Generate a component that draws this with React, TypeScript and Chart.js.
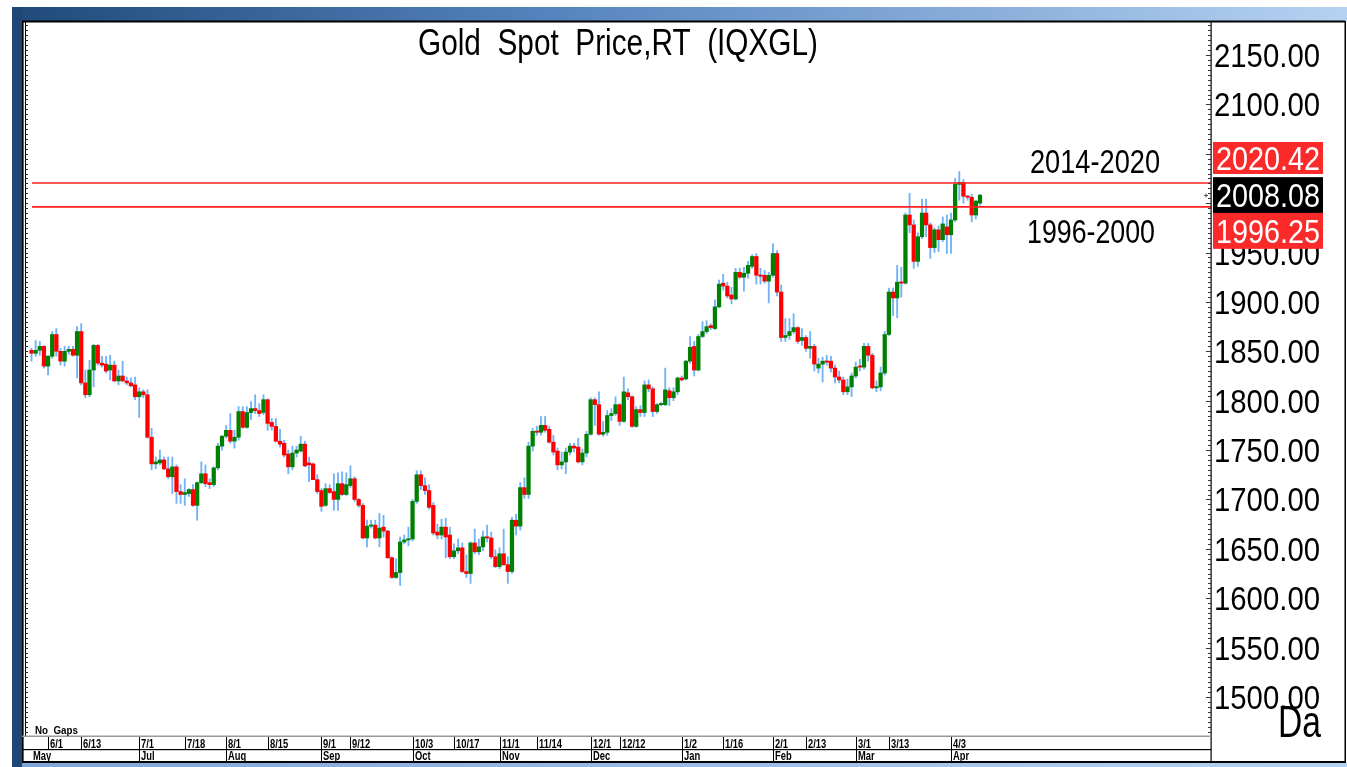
import React, { useEffect, useRef } from "react";
import { Chart, registerables } from "chart.js";

Chart.register(...registerables);

const title = "Gold  Spot  Price,RT  (IQXGL)";

const dates = [
  "5/26","5/27","5/30","5/31",
  "6/1","6/2","6/3","6/6","6/7","6/8","6/9","6/10","6/13","6/14","6/15","6/16","6/17","6/20","6/21","6/22","6/23","6/24","6/27","6/28","6/29","6/30",
  "7/1","7/4","7/5","7/6","7/7","7/8","7/11","7/12","7/13","7/14","7/15","7/18","7/19","7/20","7/21","7/22","7/25","7/26","7/27","7/28","7/29",
  "8/1","8/2","8/3","8/4","8/5","8/8","8/9","8/10","8/11","8/12","8/15","8/16","8/17","8/18","8/19","8/22","8/23","8/24","8/25","8/26","8/29","8/30","8/31",
  "9/1","9/2","9/5","9/6","9/7","9/8","9/9","9/12","9/13","9/14","9/15","9/16","9/19","9/20","9/21","9/22","9/23","9/26","9/27","9/28","9/29","9/30",
  "10/3","10/4","10/5","10/6","10/7","10/10","10/11","10/12","10/13","10/14","10/17","10/18","10/19","10/20","10/21","10/24","10/25","10/26","10/27","10/28","10/31",
  "11/1","11/2","11/3","11/4","11/7","11/8","11/9","11/10","11/11","11/14","11/15","11/16","11/17","11/18","11/21","11/22","11/23","11/24","11/25","11/28","11/29","11/30",
  "12/1","12/2","12/5","12/6","12/7","12/8","12/9","12/12","12/13","12/14","12/15","12/16","12/19","12/20","12/21","12/22","12/23","12/26","12/27","12/28","12/29","12/30",
  "1/2","1/3","1/4","1/5","1/6","1/9","1/10","1/11","1/12","1/13","1/16","1/17","1/18","1/19","1/20","1/23","1/24","1/25","1/26","1/27","1/30","1/31",
  "2/1","2/2","2/3","2/6","2/7","2/8","2/9","2/10","2/13","2/14","2/15","2/16","2/17","2/20","2/21","2/22","2/23","2/24","2/27","2/28",
  "3/1","3/2","3/3","3/6","3/7","3/8","3/9","3/10","3/13","3/14","3/15","3/16","3/17","3/20","3/21","3/22","3/23","3/24","3/27","3/28","3/29","3/30","3/31",
  "4/3","4/4","4/5","4/6","4/7","4/10","4/11","4/12",
];

const opens = [
  1851,1848,1851,1855,1835,1845,1867,1850,1840,1850,
  1852,1846,1870,1818,1806,1831,1856,1838,1837,1831,
  1836,1820,1825,1820,1818,1816,1804,1809,1806,1763,
  1736,1737,1740,1731,1723,1733,1708,1705,1706,1710,
  1694,1717,1726,1717,1715,1732,1754,1764,1770,1759,
  1763,1789,1773,1788,1792,1790,1788,1801,1778,1774,
  1759,1757,1746,1733,1747,1749,1756,1737,1736,1720,
  1709,1694,1711,1708,1700,1716,1705,1714,1721,1700,
  1694,1661,1673,1674,1661,1672,1668,1641,1621,1626,
  1657,1659,1660,1698,1725,1714,1709,1694,1667,1664,
  1672,1664,1642,1648,1651,1627,1625,1656,1647,1652,
  1662,1661,1642,1632,1645,1634,1627,1679,1673,1712,
  1705,1754,1769,1768,1775,1771,1758,1749,1735,1738,
  1748,1754,1753,1738,1747,1766,1801,1796,1766,1768,
  1785,1787,1796,1779,1808,1804,1774,1791,1788,1816,
  1812,1789,1796,1796,1810,1803,1809,1823,1822,1840,
  1855,1831,1865,1870,1876,1873,1895,1919,1916,1907,
  1903,1930,1925,1929,1936,1946,1927,1927,1921,1927,
  1949,1910,1864,1866,1870,1874,1861,1864,1853,1855,
  1833,1837,1840,1840,1833,1824,1821,1809,1814,1825,
  1835,1834,1855,1846,1813,1814,1828,1867,1910,1904,
  1920,1919,1988,1978,1941,1966,1990,1978,1955,1973,
  1963,1976,1968,1983,2019,2021,2007,2006,1988,2000,
];

const highs = [
  1853,1861,1860,1856,1846,1870,1873,1853,1855,1855,
  1855,1875,1878,1831,1841,1857,1857,1845,1845,1846,
  1840,1831,1840,1824,1823,1824,1813,1811,1811,1772,
  1743,1750,1743,1743,1743,1735,1715,1721,1711,1715,
  1718,1738,1735,1721,1733,1757,1765,1775,1787,1770,
  1794,1794,1794,1799,1806,1797,1806,1802,1782,1782,
  1771,1760,1750,1754,1754,1764,1759,1743,1737,1725,
  1711,1716,1715,1726,1727,1728,1727,1734,1723,1701,
  1696,1679,1679,1679,1686,1684,1669,1642,1640,1662,
  1664,1672,1700,1729,1729,1722,1715,1697,1675,1680,
  1681,1672,1655,1660,1656,1644,1657,1670,1660,1668,
  1674,1667,1649,1651,1670,1642,1682,1685,1717,1722,
  1758,1772,1774,1784,1784,1774,1765,1752,1748,1752,
  1757,1757,1762,1751,1769,1803,1803,1809,1779,1790,
  1792,1804,1797,1824,1812,1805,1794,1795,1820,1821,
  1814,1797,1798,1833,1813,1813,1824,1825,1841,1865,
  1860,1867,1880,1881,1878,1902,1922,1928,1920,1915,
  1934,1934,1935,1941,1948,1949,1934,1932,1930,1959,
  1952,1917,1883,1883,1888,1875,1873,1866,1870,1857,
  1843,1844,1846,1845,1836,1830,1824,1822,1828,1839,
  1842,1858,1858,1848,1820,1834,1870,1914,1914,1937,
  1935,1990,2010,1983,1970,2004,2004,1980,1975,1977,
  1986,1988,1990,2025,2032,2024,2008,2009,2003,2009,
];

const lows = [
  1840,1845,1846,1833,1826,1843,1845,1836,1835,1847,
  1845,1823,1816,1803,1804,1814,1836,1834,1828,1821,
  1819,1816,1819,1816,1814,1801,1783,1803,1762,1730,
  1731,1735,1730,1721,1706,1696,1696,1694,1703,1693,
  1679,1716,1713,1711,1713,1730,1750,1762,1757,1752,
  1760,1772,1772,1781,1787,1784,1786,1770,1770,1758,
  1753,1743,1726,1730,1743,1748,1733,1718,1720,1706,
  1688,1693,1706,1689,1689,1704,1704,1712,1698,1692,
  1660,1652,1671,1660,1652,1662,1640,1620,1620,1613,
  1655,1653,1658,1696,1710,1705,1690,1664,1660,1660,
  1641,1640,1640,1645,1626,1621,1615,1645,1644,1648,
  1657,1640,1631,1630,1633,1615,1625,1664,1669,1701,
  1701,1749,1765,1765,1768,1757,1745,1730,1731,1726,
  1745,1748,1737,1735,1743,1765,1775,1765,1764,1765,
  1780,1785,1775,1778,1801,1773,1773,1784,1784,1809,
  1784,1787,1795,1795,1795,1800,1806,1820,1821,1838,
  1825,1830,1864,1868,1872,1872,1894,1912,1904,1898,
  1902,1924,1911,1924,1934,1918,1918,1919,1899,1925,
  1906,1860,1860,1862,1868,1858,1856,1850,1843,1830,
  1828,1819,1836,1829,1818,1818,1806,1806,1804,1823,
  1830,1832,1840,1812,1809,1810,1826,1866,1886,1884,
  1905,1918,1970,1934,1936,1964,1966,1944,1950,1951,
  1961,1949,1949,1981,2003,2000,2003,1981,1984,1998,
];

const closes = [
  1848,1851,1855,1835,1845,1867,1850,1840,1850,1852,
  1846,1870,1818,1806,1831,1856,1838,1836,1830,1836,
  1820,1825,1820,1818,1815,1804,1809,1806,1763,1736,
  1738,1740,1731,1723,1733,1708,1705,1707,1710,1694,
  1717,1726,1716,1715,1732,1754,1764,1770,1759,1763,
  1789,1773,1788,1792,1790,1787,1801,1777,1774,1759,
  1756,1745,1733,1747,1750,1756,1734,1735,1720,1708,
  1693,1711,1707,1700,1716,1705,1715,1721,1700,1694,
  1661,1673,1674,1661,1671,1668,1641,1621,1626,1657,
  1659,1660,1698,1725,1714,1709,1692,1666,1664,1672,
  1662,1642,1648,1651,1627,1625,1656,1647,1652,1662,
  1661,1642,1632,1645,1634,1627,1679,1673,1712,1705,
  1754,1769,1768,1775,1770,1758,1748,1735,1738,1748,
  1754,1752,1738,1747,1766,1801,1796,1766,1768,1785,
  1787,1796,1779,1809,1804,1774,1791,1788,1816,1812,
  1789,1796,1797,1811,1803,1809,1823,1821,1840,1854,
  1831,1865,1870,1875,1874,1895,1918,1916,1906,1903,
  1930,1925,1929,1937,1946,1927,1926,1921,1927,1949,
  1910,1864,1866,1870,1874,1860,1864,1853,1855,1837,
  1837,1840,1839,1833,1824,1821,1809,1814,1825,1834,
  1834,1855,1846,1813,1814,1828,1867,1910,1904,1920,
  1919,1988,1978,1941,1966,1990,1978,1955,1973,1963,
  1979,1968,1983,2019,2021,2007,2006,1988,2002,2008.08,
];

const priceTicks = [2150, 2100, 2050, 2000, 1950, 1900, 1850, 1800, 1750, 1700, 1650, 1600, 1550, 1500];
const levels = [2020.42, 1996.25];
const levelNames = ["2014-2020", "1996-2000"];
const dateTicks = ["6/1","6/13","7/1","7/18","8/1","8/15","9/1","9/12","10/3","10/17","11/1","11/14","12/1","12/12","1/2","1/16","2/1","2/13","3/1","3/13","4/3"];
const monthNames = ["May","Jul","Aug","Sep","Oct","Nov","Dec","Jan","Feb","Mar","Apr"];
const monthStarts = ["5/26","7/1","8/1","9/1","10/3","11/1","12/1","1/2","2/1","3/1","4/3"];
const periodLabel = "Da";
const gapLabel = "No  Gaps";

const FONT = '"Liberation Sans", Arial, sans-serif';
const GREEN = "#008000";
const RED = "#ff0000";
const WICK = "#72b3f6";

function fitText(ctx: CanvasRenderingContext2D, text: string, left: number, baseline: number, font: string, width: number, color: string) {
  ctx.save();
  ctx.font = font;
  ctx.fillStyle = color;
  ctx.textAlign = "left";
  ctx.textBaseline = "alphabetic";
  const w = ctx.measureText(text).width || 1;
  ctx.translate(left, baseline);
  ctx.scale(width / w, 1);
  ctx.fillText(text, 0, 0);
  ctx.restore();
}

function scaledText(ctx: CanvasRenderingContext2D, text: string, left: number, baseline: number, font: string, sx: number, color: string) {
  ctx.save();
  ctx.font = font;
  ctx.fillStyle = color;
  ctx.textAlign = "left";
  ctx.textBaseline = "alphabetic";
  ctx.translate(left, baseline);
  ctx.scale(sx, 1);
  ctx.fillText(text, 0, 0);
  ctx.restore();
}

const framePlugin = {
  id: "frame",
  beforeDraw(chart: any) {
    const ctx: CanvasRenderingContext2D = chart.ctx;
    const W = chart.width;
    const H = chart.height;
    ctx.save();
    ctx.fillStyle = "#ffffff";
    ctx.fillRect(0, 0, W, H);
    const g = ctx.createLinearGradient(12, 0, W, 0);
    g.addColorStop(0, "#1f4a79");
    g.addColorStop(0.4, "#5483bd");
    g.addColorStop(1, "#b6d2f2");
    ctx.fillStyle = g;
    ctx.fillRect(12, 7, W - 12, 14);
    const g2 = ctx.createLinearGradient(12, 0, W, 0);
    g2.addColorStop(0, "#7ea6d8");
    g2.addColorStop(1, "#b6d2f2");
    ctx.fillStyle = g2;
    ctx.fillRect(22, 763, W - 22, 4);
    ctx.fillStyle = "#1e4776";
    ctx.fillRect(12, 7, 10, H - 7);
    ctx.restore();
  },
  afterDatasetsDraw(chart: any) {
    const ctx: CanvasRenderingContext2D = chart.ctx;
    const ys = chart.scales.y;
    const area = chart.chartArea;
    ctx.save();
    ctx.strokeStyle = "#ff1e1e";
    ctx.lineWidth = 1.7;
    levels.forEach((v) => {
      const y = ys.getPixelForValue(v);
      ctx.beginPath();
      ctx.moveTo(32, y);
      ctx.lineTo(area.right + 1, y);
      ctx.stroke();
    });
    ctx.restore();
  },
  afterDraw(chart: any) {
    const ctx: CanvasRenderingContext2D = chart.ctx;
    const ys = chart.scales.y;
    const xs = chart.scales.x;
    const area = chart.chartArea;
    const W = chart.width;
    const axisX = area.right + 1;
    ctx.save();

    // frame borders
    ctx.fillStyle = "#000";
    ctx.fillRect(22, 20.5, W - 24, 2);
    ctx.fillRect(22, 21, 1.6, 742);
    ctx.fillRect(W - 2.5, 21, 1.5, 742);
    ctx.fillRect(22, 761, W - 24, 2);

    // left inner axis with ticks
    ctx.fillRect(25, 21, 1, area.bottom - 21);
    ctx.fillStyle = "#222";
    for (let v = 1465; v <= 2180; v += 5) {
      const y = Math.round(ys.getPixelForValue(v)) + 0.5;
      ctx.fillRect(25, y - 0.5, 3, 1);
    }

    // right axis
    ctx.fillStyle = "#000";
    ctx.fillRect(axisX - 0.5, 21, 1.2, 742);
    ctx.fillStyle = "#333";
    for (let v = 1465; v <= 2180; v += 5) {
      const y = Math.round(ys.getPixelForValue(v));
      const len = v % 50 === 0 ? 5 : 3;
      ctx.fillRect(axisX - len, y, len, 1);
    }

    // title
    fitText(ctx, title, 418, 55, `36px ${FONT}`, 400, "#000");

    // price labels
    priceTicks.forEach((v) => {
      const y = ys.getPixelForValue(v);
      fitText(ctx, v.toFixed(2), 1214, y + 12, `33px ${FONT}`, 106, "#000");
    });

    // level labels
    const lvlY = levels.map((v) => ys.getPixelForValue(v));
    fitText(ctx, levelNames[0], 1030, lvlY[0] - 10, `33px ${FONT}`, 130, "#000");
    fitText(ctx, levelNames[1], 1027, lvlY[1] + 36, `33px ${FONT}`, 128, "#000");

    // value boxes
    const last = closes[closes.length - 1];
    const lastY = ys.getPixelForValue(last);
    const boxL = 1213;
    const boxW = 110;
    const drawBox = (cy: number, h: number, bg: string, val: number) => {
      ctx.fillStyle = bg;
      ctx.fillRect(boxL, cy - h / 2, boxW, h);
      fitText(ctx, val.toFixed(2), boxL + 3, cy + 12, `33px ${FONT}`, 104, "#fff");
    };
    drawBox(lvlY[0] - 25, 32, "#fb2a2a", levels[0]);
    drawBox(lastY, 36, "#000", last);
    drawBox(lvlY[1] + 24, 36, "#fb2a2a", levels[1]);
    ctx.fillStyle = "#555";
    ctx.fillRect(1204, Math.round(lastY), 4, 1);
    ctx.fillRect(1205.5, Math.round(lastY) - 1.5, 1, 4);

    // period label
    fitText(ctx, periodLabel, 1278, 737, `45px ${FONT}`, 43, "#000");

    // date band
    ctx.fillStyle = "#9a9a9a";
    ctx.fillRect(22, 735.5, axisX - 22, 1.5);
    ctx.fillStyle = "#000";
    ctx.fillRect(22, 749, axisX - 22, 1.2);
    fitText(ctx, gapLabel, 35, 734, `bold 10px ${FONT}`, 43, "#000");

    dateTicks.forEach((d) => {
      const i = dates.indexOf(d);
      if (i < 0) return;
      const x = Math.round(xs.getPixelForValue(i));
      ctx.fillStyle = "#000";
      ctx.fillRect(x, 737, 1, 12);
      scaledText(ctx, d, x + 2, 747.5, `bold 12px ${FONT}`, 0.78, "#000");
    });
    monthNames.forEach((m, k) => {
      const i = dates.indexOf(monthStarts[k]);
      if (i < 0) return;
      const x = Math.round(xs.getPixelForValue(i));
      if (i > 0) {
        ctx.fillStyle = "#000";
        ctx.fillRect(x, 750, 1, 11);
      }
      scaledText(ctx, m, x + (i > 0 ? 2 : 1), 759.5, `bold 12px ${FONT}`, 0.78, "#000");
    });

    ctx.restore();
  },
};

export default function App() {
  const ref = useRef<HTMLCanvasElement | null>(null);

  useEffect(() => {
    const canvas = ref.current;
    if (!canvas) return;
    const idx = dates.map((_, i) => i);
    const wickData = idx.map((i) => ({ x: i, y: [lows[i], highs[i]] }));
    const bodyData = idx.map((i) => ({ x: i, y: [opens[i], closes[i]] }));
    const bodyColors = idx.map((i) => (closes[i] >= opens[i] ? GREEN : RED));

    const chart = new Chart(canvas, {
      type: "bar",
      data: {
        datasets: [
          {
            label: "range",
            data: wickData as any,
            backgroundColor: WICK,
            barThickness: 1.2,
            grouped: false,
            order: 2,
            borderWidth: 0,
          } as any,
          {
            label: "body",
            data: bodyData as any,
            backgroundColor: bodyColors,
            barThickness: 3.6,
            minBarLength: 1.2,
            grouped: false,
            order: 1,
            borderWidth: 0,
          } as any,
        ],
      },
      options: {
        responsive: false,
        maintainAspectRatio: false,
        devicePixelRatio: 1,
        animation: false,
        events: [],
        layout: { padding: { left: 27, right: 137, top: 21, bottom: 31 } },
        plugins: {
          legend: { display: false },
          title: { display: false },
          tooltip: { enabled: false },
        },
        scales: {
          x: {
            type: "linear",
            min: -1.0865,
            max: 284.53,
            offset: false,
            display: false,
          },
          y: {
            type: "linear",
            min: 1460.51,
            max: 2184.42,
            display: false,
          },
        },
      },
      plugins: [framePlugin],
    } as any);

    return () => chart.destroy();
  }, []);

  return (
    <div style={{ position: "absolute", left: 0, top: 0, width: 1347, height: 767, overflow: "hidden" }}>
      <canvas ref={ref} width={1347} height={767} style={{ display: "block", width: 1347, height: 767 }} />
    </div>
  );
}
